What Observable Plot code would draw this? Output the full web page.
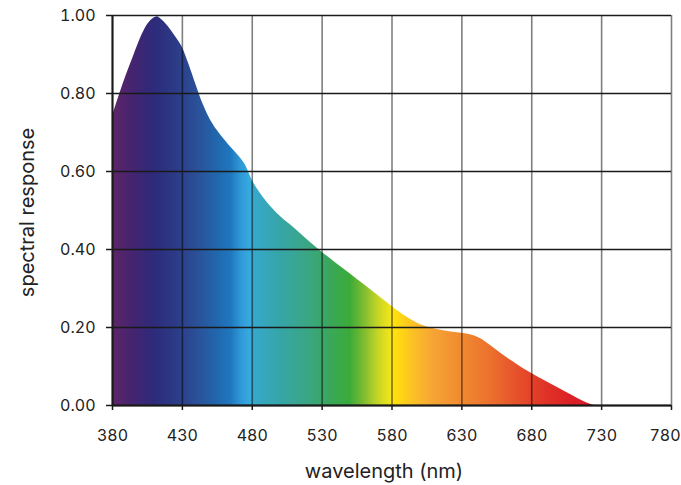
<!DOCTYPE html>
<html>
<head>
<meta charset="utf-8">
<script src="https://cdn.jsdelivr.net/npm/d3@7"></script>
<script src="https://cdn.jsdelivr.net/npm/@observablehq/plot@0.6"></script>
<style>
  html, body { margin: 0; padding: 0; background: #fff; }
  #chart { width: 681px; height: 485px; }
</style>
</head>
<body>
<div id="chart"></div>
<script>
// Spectral response curve
const wavelength = [380,385,390,395,400,405,410,412,415,420,425,430,435,440,445,450,455,460,465,470,475,480,485,490,495,500,510,520,530,540,550,560,570,580,590,600,610,620,630,640,645,650,660,670,680,690,700,710,715,720,725];
const response   = [0.742,0.797,0.848,0.895,0.941,0.976,0.994,0.997,0.99,0.971,0.946,0.918,0.872,0.82,0.771,0.733,0.705,0.682,0.661,0.641,0.617,0.577,0.548,0.524,0.503,0.485,0.455,0.423,0.393,0.365,0.338,0.31,0.282,0.254,0.228,0.208,0.197,0.19,0.185,0.177,0.168,0.155,0.128,0.104,0.082,0.062,0.043,0.024,0.014,0.006,0.0];

// Tick values
const xTicks = [380,430,480,530,580,630,680,730,780];
const yTicks = [0,0.2,0.4,0.6,0.8,1.0];

// Colour stops of the spectrum fill (wavelength -> colour)
const stopNm    = [380,395,410,425,440,455,465,472,478,481,500,520,535,550,560,570,578,582,595,610,630,650,670,690,710,725];
const stopColor = ["#5f2568","#442470","#2d2b7b","#2c3a86","#2b4f97","#2167ad","#1f78bf","#2f98d6","#36aae0","#36a8cc","#36a5a8","#3aa683","#3aa75d","#3aab38","#7dbb31","#c5d426","#ece31b","#ffe10c","#fbc125","#f6a434","#f08a30","#ec712d","#e6512b","#e03327","#dc1f26","#d91a2a"];

const xLabel = "wavelength (nm)";
const yLabel = "spectral response";

const data = wavelength.map((w, i) => ({w, r: response[i]}));

const chart = Plot.plot({
  width: 681,
  height: 485,
  marginLeft: 112,
  marginRight: 10,
  marginTop: 15,
  marginBottom: 80,
  style: {fontFamily: "Inter, sans-serif", fontSize: "16px", color: "#222", background: "#fff"},
  x: {domain: [380, 780], ticks: xTicks, tickFormat: d => String(d), tickSize: 5, tickPadding: 19, label: null},
  y: {domain: [0, 1], ticks: yTicks, tickFormat: d3.format(".2f"), tickSize: 6, tickPadding: 11, label: null},
  marks: [
    Plot.areaY(data, {x: "w", y: "r", fill: "url(#spectrum)", curve: "monotone-x"}),
    Plot.ruleX(xTicks, {stroke: "#000", strokeOpacity: 0.5, strokeWidth: 1.6}),
    Plot.ruleY(yTicks, {stroke: "#1a1a1a", strokeWidth: 1.5}),
    Plot.ruleX([380], {stroke: "#1a1a1a", strokeWidth: 2}),
    Plot.ruleY([0], {stroke: "#1a1a1a", strokeWidth: 2}),
    Plot.text([yLabel], {frameAnchor: "left", rotate: -90, dx: -85, dy: 2, textAnchor: "middle", lineAnchor: "middle", fontSize: 20, fill: "#222"}),
    Plot.text([xLabel], {frameAnchor: "bottom", dx: -8, dy: 66, textAnchor: "middle", lineAnchor: "middle", fontSize: 20, fill: "#222"})
  ]
});

// Spectrum gradient mapped through the x scale
const xs = chart.scale("x");
const x0 = xs.apply(380), x1 = xs.apply(780);
const svg = d3.select(chart);
const defs = svg.insert("defs", ":first-child");
const grad = defs.append("linearGradient")
  .attr("id", "spectrum")
  .attr("gradientUnits", "userSpaceOnUse")
  .attr("x1", x0).attr("x2", x1).attr("y1", 0).attr("y2", 0);
stopNm.forEach((nm, i) => {
  grad.append("stop")
    .attr("offset", (xs.apply(nm) - x0) / (x1 - x0))
    .attr("stop-color", stopColor[i]);
});
svg.selectAll("[aria-label='x-axis tick'], [aria-label='y-axis tick']").attr("stroke", "#1a1a1a").attr("stroke-width", 1.5);

// Keep the last x tick label inside the frame, as in the reference
const xTickTexts = svg.selectAll("[aria-label='x-axis tick label'] text").nodes();
if (xTickTexts.length) {
  const last = xTickTexts[xTickTexts.length - 1];
  last.setAttribute("text-anchor", "end");
  last.setAttribute("dx", "9");
}

document.getElementById("chart").appendChild(chart);
</script>
</body>
</html>
